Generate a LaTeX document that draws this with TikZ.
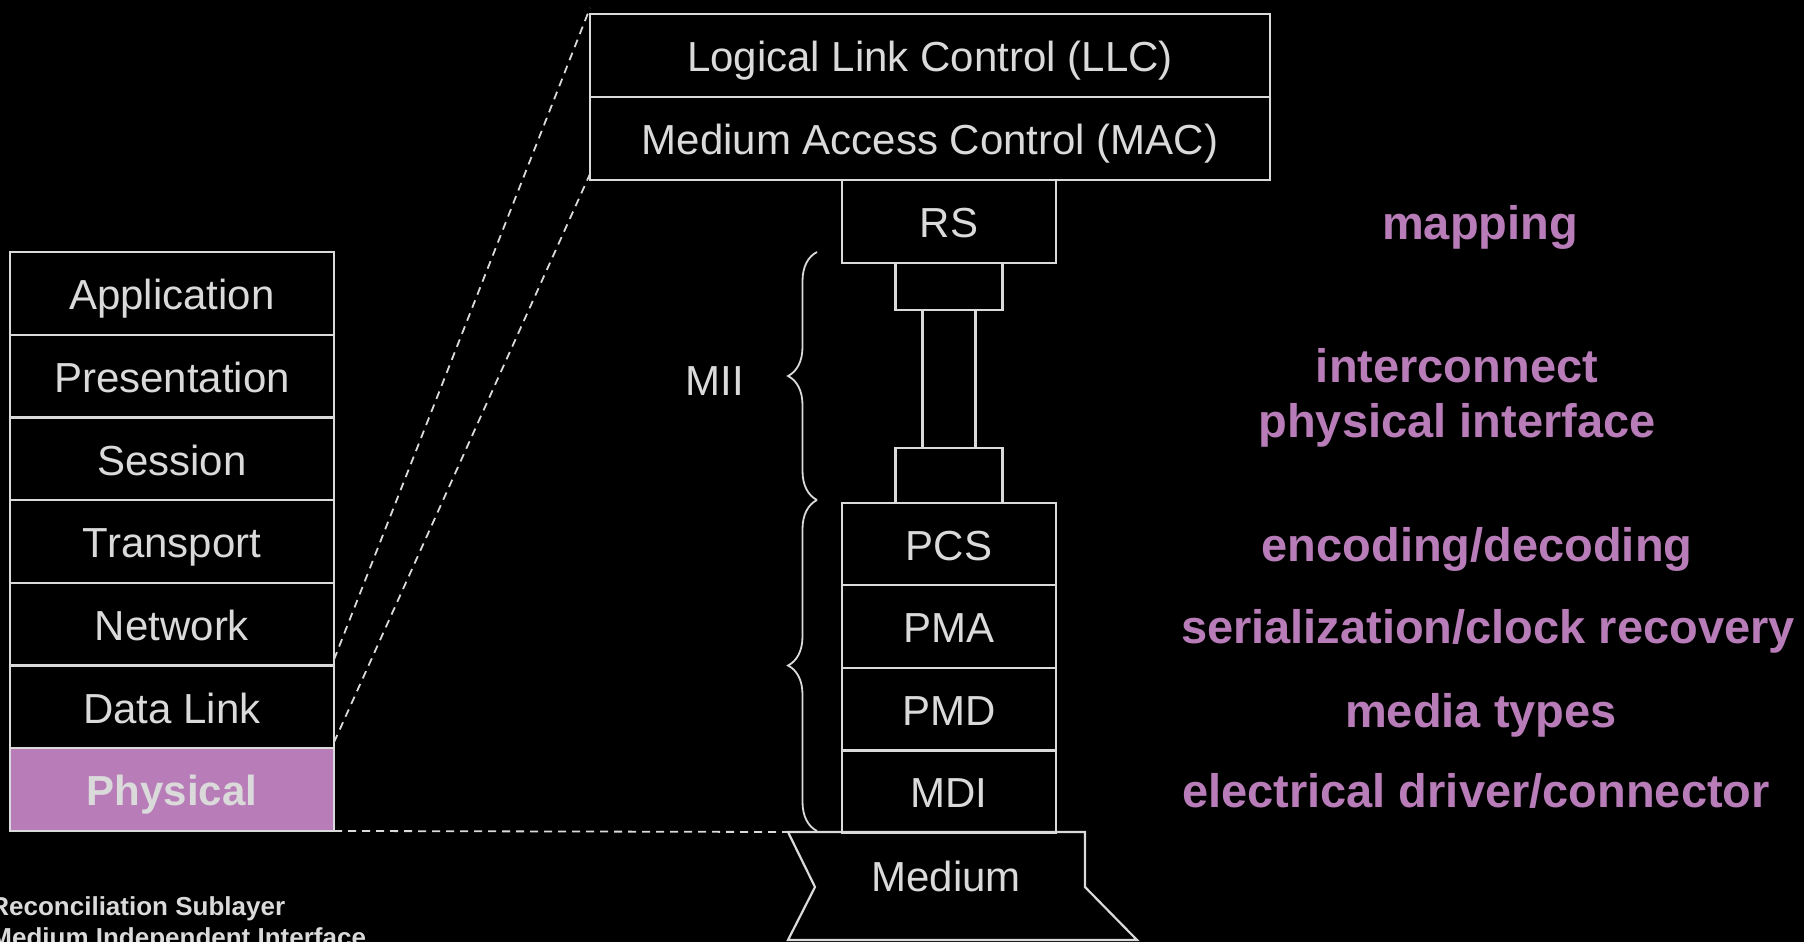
\documentclass[tikz,border=0pt]{standalone}
\usepackage{fontspec}
\setmainfont{Liberation Sans}
\usetikzlibrary{positioning,decorations.pathreplacing,calc}
\definecolor{ink}{HTML}{DADADA}
\definecolor{orch}{HTML}{B87DB8}
\tikzset{
  layer/.style={draw=ink, line width=1.1pt, text=ink, minimum width=162pt, minimum height=41.35pt,
    inner sep=0pt, outer sep=0pt, text height=16.2pt, text depth=0pt, font=\fontsize{21}{25}\selectfont},
  sublayer/.style={layer, minimum width=107pt, minimum height=41.3pt},
  maclayer/.style={layer, minimum width=340pt, minimum height=41.5pt},
  stub/.style={draw=ink, line width=1.1pt, minimum width=53.5pt, inner sep=0pt, outer sep=0pt},
  zoomline/.style={dashed, dash pattern=on 4pt off 3pt, ink, line width=0.9pt},
  role/.style={text=orch, anchor=base, align=center, font=\fontsize{23.5}{27.5}\selectfont\bfseries},
  mybrace/.style={decorate, decoration={brace, amplitude=14.5pt}, ink, line width=0.9pt},
}

\begin{document}
\begin{tikzpicture}[x=0.5pt, y=-0.5pt]
  \fill[black] (0,0) rectangle (1804,942);
  \useasboundingbox (0,0) rectangle (1804,942);
  % OSI reference model
  \node[layer] (app) at (172,293.4) {Application};
  \node[layer, below=0pt of app] (pres) {Presentation};
  \node[layer, below=0pt of pres] (sess) {Session};
  \node[layer, below=0pt of sess] (trans) {Transport};
  \node[layer, below=0pt of trans] (net) {Network};
  \node[layer, below=0pt of net] (dlink) {Data Link};
  \node[layer, fill=orch, font=\fontsize{21}{25}\selectfont\bfseries, below=0pt of dlink] (phys) {Physical};
  % 802.3 sublayers
  \node[maclayer] (llc) at (930,55.5) {Logical Link Control (LLC)};
  \node[maclayer, below=0pt of llc] (mac) {Medium Access Control (MAC)};
  \node[sublayer, below=0pt of mac, xshift=9.5pt] (rs) {RS};
  \node[stub, minimum height=23.5pt, below=0pt of rs] (stubtop) {};
  \node[stub, minimum height=27.5pt, below=69pt of stubtop] (stubbot) {};
  \node[sublayer, below=0pt of stubbot] (pcs) {PCS};
  \node[sublayer, below=0pt of pcs] (pma) {PMA};
  \node[sublayer, below=0pt of pma] (pmd) {PMD};
  \node[sublayer, below=0pt of pmd] (mdi) {MDI};
  % interface wires
  \draw[ink, line width=1.1pt] ([xshift=-13.25pt]stubtop.south) -- ([xshift=-13.25pt]stubbot.north);
  \draw[ink, line width=1.1pt] ([xshift=13.25pt]stubtop.south) -- ([xshift=13.25pt]stubbot.north);
  % medium
  \coordinate (medtl) at (788,832);
  \draw[ink, line width=1.1pt] (medtl) -- (1085,832) -- (1085,887) -- (1137,940) -- (788,940) -- (815,887) -- cycle;
  \node[text=ink, font=\fontsize{21}{25}\selectfont] (medium) at (946,876) {Medium};
  % zoom guides
  \draw[zoomline] (phys.south east) -- (medtl);
  \draw[zoomline] ([yshift=3pt]dlink.north east) -- ([yshift=3pt]llc.north west);
  \draw[zoomline] ([yshift=3pt]phys.north east) -- ([yshift=3pt]mac.south west);
  % braces
  \draw[mybrace] (817,500) -- (817,252);
  \draw[mybrace] (817,831) -- (817,500);
  \node[text=ink, font=\fontsize{21}{25}\selectfont] (mii) at (715,381) {MII};
  % functions
  \node[role] (fmap) at (1480,239) {mapping};
  \node[role] (fmii) at (1457,437) {interconnect\\physical interface};
  \node[role] (fpcs) at (1477,561) {encoding/decoding};
  \node[role] (fpma) at (1488,643) {serialization/clock recovery};
  \node[role] (fpmd) at (1481,727) {media types};
  \node[role] (fmdi) at (1476,807) {electrical driver/connector};
  % key
  \node[text=ink, anchor=base west, align=left, inner sep=0pt,
    font=\fontsize{13}{15.5}\selectfont\bfseries] (key) at (-10,946)
    {Reconciliation Sublayer\\Medium Independent Interface};
\end{tikzpicture}
\end{document}
